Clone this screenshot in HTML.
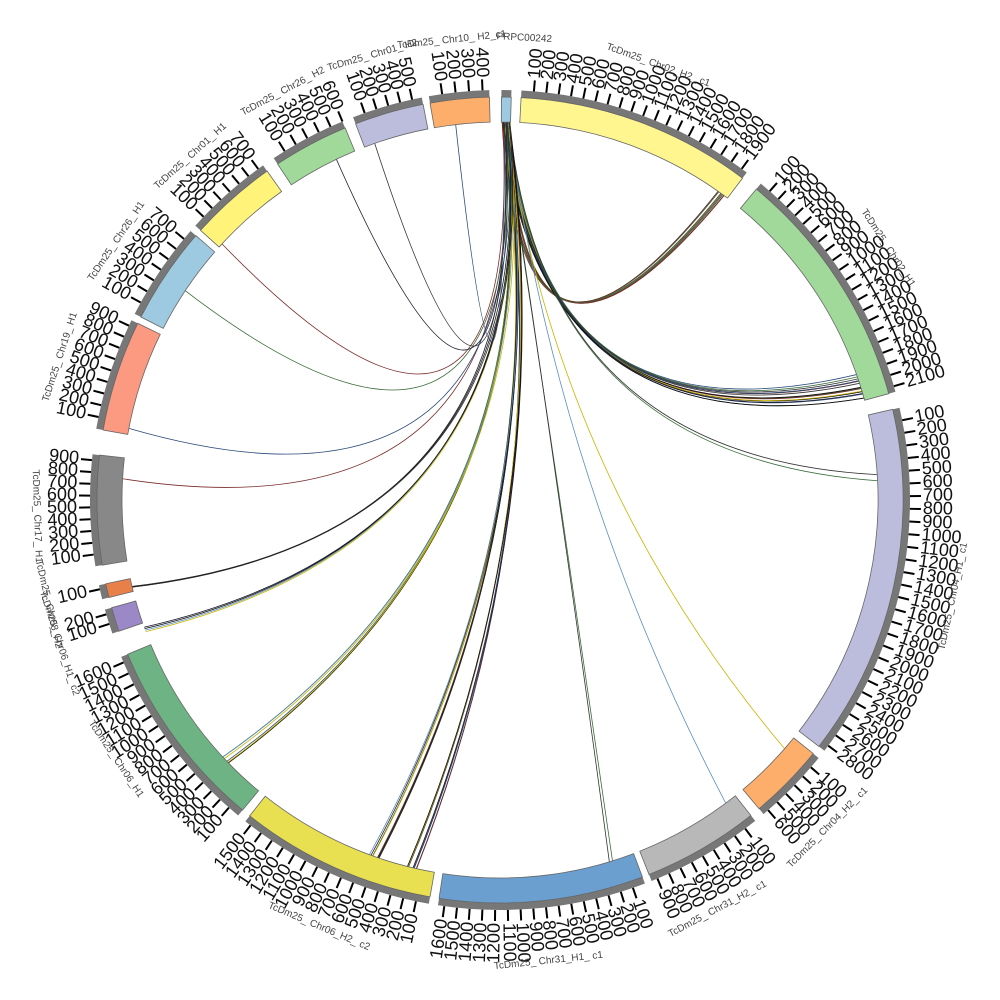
<!DOCTYPE html>
<html><head><meta charset="utf-8"><style>
html,body{margin:0;padding:0;background:#fff;width:1000px;height:1000px;overflow:hidden}
svg{display:block}
.nm{font-family:"Liberation Sans",sans-serif;font-size:10px;fill:#444}
.tk{font-family:"Liberation Sans",sans-serif;font-size:18px;fill:#111}
</style></head><body>
<svg id="s" width="1000" height="1000" viewBox="0 0 1000 1000" xmlns="http://www.w3.org/2000/svg">
<g id="links" fill="none"></g>
<g id="segs"></g>
<g id="ticks"></g>
<g class="nm">
<text x="500" y="40" text-anchor="middle" transform="rotate(20 500 500)">TcDm25_ Chr02_H2_ c1</text>
<text x="500" y="40" text-anchor="middle" transform="rotate(57 500 500)">TcDm25_ Chr02_H1</text>
<text x="500" y="40" text-anchor="middle" transform="rotate(102 500 500) rotate(180 500 37)">TcDm25_ Chr04_H1_ c1</text>
<text x="500" y="40" text-anchor="middle" transform="rotate(135 500 500) rotate(180 500 37)">TcDm25_ Chr04_H2_ c1</text>
<text x="500" y="40" text-anchor="middle" transform="rotate(152 500 500) rotate(180 500 37)">TcDm25_ Chr31_H2_ c1</text>
<text x="500" y="40" text-anchor="middle" transform="rotate(174 500 500) rotate(180 500 37)">TcDm25_ Chr31_H1_ c1</text>
<text x="500" y="40" text-anchor="middle" transform="rotate(203 500 500) rotate(180 500 37)">TcDm25_ Chr06_H2_ c2</text>
<text x="500" y="40" text-anchor="middle" transform="rotate(236 500 500) rotate(180 500 37)">TcDm25_ Chr06_H1</text>
<text x="500" y="40" text-anchor="middle" transform="rotate(252 500 500) rotate(180 500 37)">TcDm25_ Chr06_H1_ c2</text>
<text x="500" y="40" text-anchor="middle" transform="rotate(257 500 500) rotate(180 500 37)">TcDm25_ Chr08_H2</text>
<text x="500" y="40" text-anchor="middle" transform="rotate(268 500 500) rotate(180 500 37)">TcDm25_ Chr17_ H1</text>
<text x="500" y="40" text-anchor="middle" transform="rotate(288 500 500)">TcDm25_ Chr19_ H1</text>
<text x="500" y="40" text-anchor="middle" transform="rotate(304 500 500)">TcDm25_ Chr26_ H1</text>
<text x="500" y="40" text-anchor="middle" transform="rotate(318 500 500)">TcDm25_ Chr01_ H1</text>
<text x="500" y="40" text-anchor="middle" transform="rotate(332 500 500)">TcDm25_ Chr26_ H2</text>
<text x="500" y="40" text-anchor="middle" transform="rotate(344 500 500)">TcDm25_ Chr01_ H2</text>
<text x="500" y="40" text-anchor="middle" transform="rotate(354 500 500)">TcDm25_ Chr10_ H2_c1</text>
<text x="500" y="40" text-anchor="middle" transform="rotate(3 500 500)">PRPC00242</text>
</g>
</svg>
<script>
(function(){
var cx=500,cy=500,r0=378,r1=403,r2=410,NS="http://www.w3.org/2000/svg";
function P(a,r){a=a*Math.PI/180;return [cx+r*Math.sin(a),cy-r*Math.cos(a)];}
function el(t,at,par){var e=document.createElementNS(NS,t);for(var k in at)e.setAttribute(k,at[k]);par.appendChild(e);return e;}
function arc(a0,a1,ri,ro){var l=(a1-a0)>180?1:0,A=P(a0,ro),B=P(a1,ro),C=P(a1,ri),D=P(a0,ri);
return "M"+A+" A"+ro+" "+ro+" 0 "+l+" 1 "+B+" L"+C+" A"+ri+" "+ri+" 0 "+l+" 0 "+D+"Z";}
var segs=[
[0.2,1.6,60,"#9ecae1",0],
[3,37,1950,"#fff68f",0],
[39.5,74.7,2150,"#a1d99b",0],
[77,127.7,2850,"#bcbddc",0],
[129,140,650,"#fdae6b",0],
[141.5,158.3,950,"#b8b8b8",0],
[159.3,188.7,1650,"#6a9fcf",0],
[190,218.4,1550,"#e8e050",0],
[219.7,247.5,1650,"#6db384",0],
[251,254.5,250,"#9b88c6",0],
[256,258,140,"#e8804a",0],
[260.7,276.4,950,"#888888",0],
[280,296,950,"#fc9981",0],
[297,311,780,"#9ecae1",0],
[312,324.7,750,"#fff37a",0],
[326.5,337.4,600,"#a1d99b",0],
[339,349,580,"#bcbddc",0],
[350,358.5,450,"#fdae6b",0]];
var sg=document.getElementById("segs"),tg=document.getElementById("ticks");
segs.forEach(function(s,i){
 el("path",{d:arc(s[0],s[1],r1,r2),fill:"#777"},sg);
 el("path",{d:arc(s[0],s[1],r0,r1),fill:s[3],stroke:"#666","stroke-width":0.8},sg);
 if(i==0)return;
 var n=Math.floor(s[2]/100);
 for(var k=1;k<=n;k++){
  var f=k*100/s[2],a=s[4]?s[1]-f*(s[1]-s[0]):s[0]+f*(s[1]-s[0]);
  var A=P(a,r2),B=P(a,r2+11);
  el("line",{x1:A[0],y1:A[1],x2:B[0],y2:B[1],stroke:"#000","stroke-width":2},tg);
  var L=P(a,r2+13),t;
  if(a<180) t=el("text",{x:L[0],y:L[1],"class":"tk","text-anchor":"start","dominant-baseline":"middle",transform:"rotate("+(a-90)+" "+L[0]+" "+L[1]+")"},tg);
  else t=el("text",{x:L[0],y:L[1],"class":"tk","text-anchor":"end","dominant-baseline":"middle",transform:"rotate("+(a+90)+" "+L[0]+" "+L[1]+")"},tg);
  t.textContent=String(k*100);
 }
});
var lg=document.getElementById("links");
var cols=["#222","#1a1a2e","#333","#6b3a1f","#2a4a7a","#c9b400","#3a6b3a","#7a2a2a","#5a8fc0","#111"];
var L=[[36,6],[35.5,3],[72,4],[73,6],[74,4],[71,3],[87,1],[86.5,1],[131,1],[143,1],[163,2],[193,5],[194,4],[199,5],[200,4],[226,4],[227,3],[250,4],[256.5,3],[273,1],[281,1],[304,1],[313,1],[334,1],[341,1],[353,1]];
var seed=3;function rnd(){seed=(seed*9301+49297)%233280;return seed/233280;}
L.forEach(function(l){
 for(var j=0;j<l[1];j++){
  var sa=0.3+rnd()*1.2,ta=l[0]+(rnd()-0.5)*0.8;
  var A=P(sa,r0),B=P(ta,r0),C=P((sa+ta)/2,60);
  el("path",{d:"M"+A+" Q"+C+" "+B,stroke:cols[Math.floor(rnd()*cols.length)],"stroke-width":0.8},lg);
 }
});
})();
</script>
</body></html>
